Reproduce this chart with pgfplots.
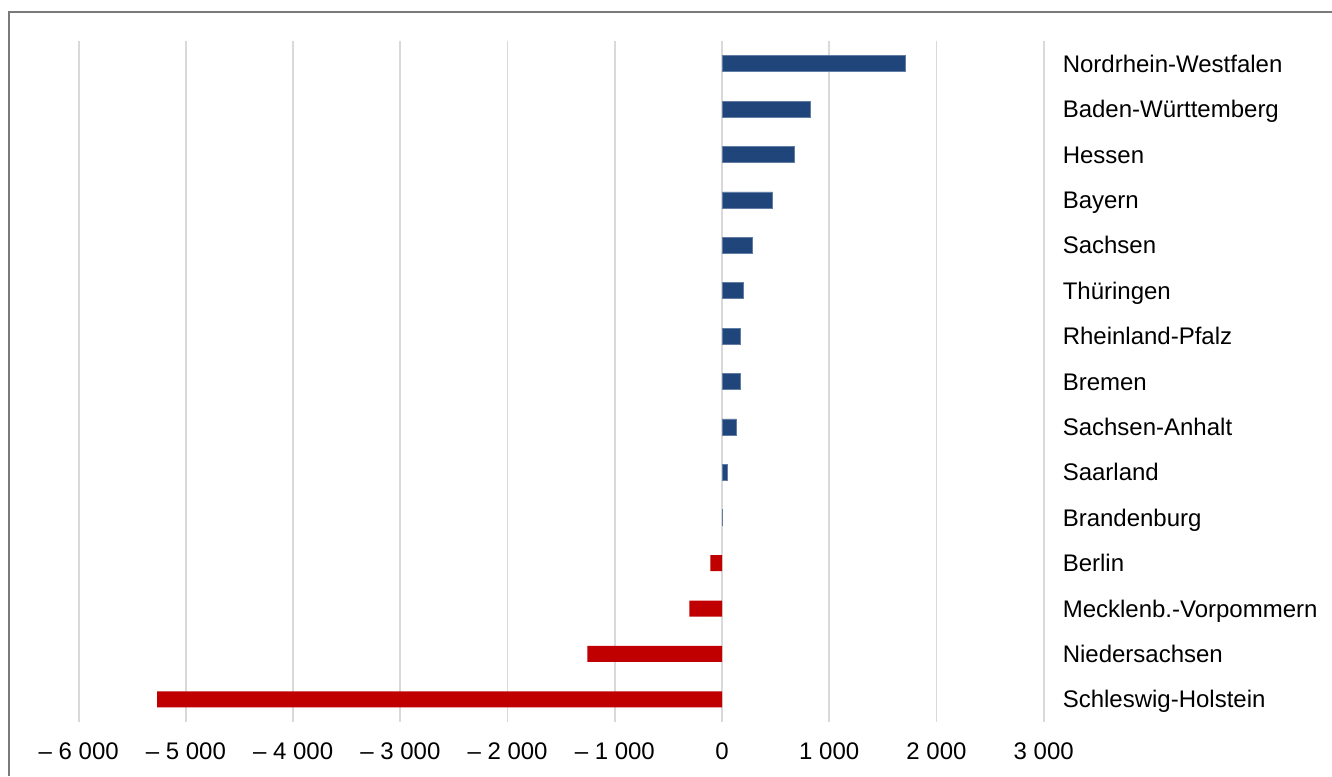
\documentclass[border=0pt]{standalone}
\usepackage{pgfplots}
\pgfplotsset{compat=1.18}
\usepackage{fontspec}
\setmainfont{Liberation Sans}

\definecolor{posblue}{HTML}{1F457B}
\definecolor{negred}{HTML}{C00000}
\definecolor{gridgray}{HTML}{D9D9D9}
\definecolor{framegray}{HTML}{7A7A7A}

% Wanderungssaldo je Land (0 = oben)
\pgfplotstableread{
y  v
0  1707
1  821
2  674
3  472
4  283
5  199
6  174
7  168
8  131
9  49
10 6
}\pos
\pgfplotstableread{
y  v
11 -109
12 -305
13 -1256
14 -5268
}\neg

\begin{document}
\begin{tikzpicture}
\path[use as bounding box] (0,0) rectangle (666pt,388pt);
\draw[framegray, line width=0.7pt] (4.4pt,0) -- (4.4pt,382pt) -- (666pt,382pt);
\begin{axis}[
    at={(39.35pt,27pt)}, anchor=south west,
    scale only axis,
    width=482.5pt, height=340.5pt,
    xbar, bar width=8pt,
    xmin=-6000, xmax=3000,
    ymin=-0.5, ymax=14.5,
    y dir=reverse,
    xtick={-6000,-5000,...,3000},
    xticklabels={– 6 000,– 5 000,– 4 000,– 3 000,– 2 000,– 1 000,0,1 000,2 000,3 000},
    ytick={0,...,14},
    yticklabels={Nordrhein-Westfalen,Baden-Württemberg,Hessen,Bayern,Sachsen,Thüringen,Rheinland-Pfalz,Bremen,Sachsen-Anhalt,Saarland,Brandenburg,Berlin,Mecklenb.-Vorpommern,Niedersachsen,Schleswig-Holstein},
    yticklabel pos=right,
    yticklabel style={anchor=base west, xshift=6pt, yshift=-4.3pt},
    xticklabel style={yshift=-7pt},
    ticklabel style={font=\fontsize{12}{14}\selectfont, text=black},
    major tick length=0pt,
    axis line style={draw=none},
    xmajorgrids, ymajorgrids=false,
    major grid style={gridgray, line width=0.9pt},
]
\addplot[fill=posblue, draw=posblue!70!white, line width=0.3pt, bar shift=0pt] table[x=v, y=y] {\pos};
\addplot[fill=negred, draw=none, bar shift=0pt] table[x=v, y=y] {\neg};
\end{axis}
\end{tikzpicture}
\end{document}
